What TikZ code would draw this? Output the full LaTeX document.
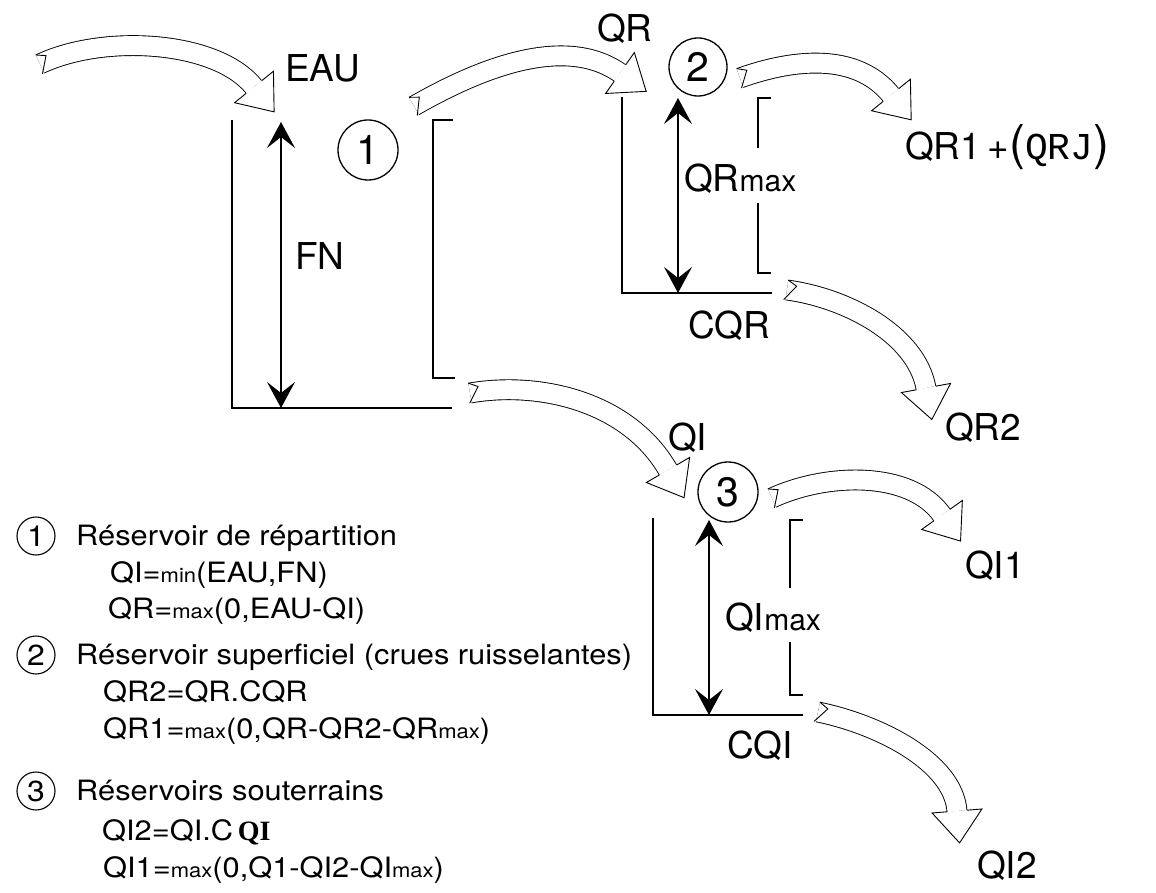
\documentclass[tikz,border=0pt]{standalone}
\usepackage{fontspec}
\setmainfont{TeX Gyre Heros}
\newfontfamily\legfont[FakeStretch=1.1]{TeX Gyre Heros}
\newfontfamily\handfont{Liberation Mono}
\newfontfamily\serifbold{Liberation Serif}
\usetikzlibrary{arrows.meta,decorations.markings}
\newcommand\smalltxt[1]{{\fontsize{20}{20}\selectfont #1}}
\tikzset{
  wall/.style={line width=1.1pt},
  dimarrow/.style={line width=1.3pt,
    {Stealth[length=26pt,width=28pt,inset=11pt]}-{Stealth[length=26pt,width=28pt,inset=11pt]}},
  bigcirc/.style={draw, circle, line width=1.3pt, minimum size=60pt, inner sep=0pt,
    font=\fontsize{41}{41}\selectfont},
  legcirc/.style={draw, circle, line width=1.1pt, minimum size=38pt, inner sep=0pt,
    font=\legfont\fontsize{29}{29}\selectfont},
  biglabel/.style={inner sep=0pt, anchor=base west, font=\fontsize{37}{37}\selectfont},
  legtext/.style={inner sep=0pt, anchor=base west, font=\legfont\fontsize{28}{28}\selectfont},
  flow/.style={draw, line width=0.9pt, double, double distance=19pt,
    postaction={decorate, decoration={markings,
      mark=at position 0 with {\draw[line width=0.9pt, line join=miter] (0,10) -- (9,5) -- (-2,-10);},
      mark=at position 0.9999 with {\path[draw, fill=white, line width=0.9pt, line join=miter]
          (0,10) -- (0,25) -- (32,0) -- (0,-25) -- (0,-10);}}}}
}
\begin{document}
\begin{tikzpicture}[x=1pt,y=1pt]
\useasboundingbox (0,0) rectangle (1156,-893);

% ---------- reservoir 1
\draw[wall] (232,-120) -- (232,-408) -- (452,-408);
\draw[wall] (453,-120) -- (433,-120) -- (433,-378) -- (455,-378);
\coordinate (fnTop) at (281,-122);
\coordinate (fnBot) at (281,-408);
\draw[dimarrow] (fnBot) -- (fnTop);
\node[bigcirc] (c1) at (368,-150) {1};
\node[biglabel] (eau) at (285,-82) {EAU};
\node[biglabel] (fn) at (295,-270) {FN};

% ---------- reservoir 2
\draw[wall] (622,-97) -- (622,-293) -- (772,-293);
\draw[wall] (771,-98) -- (758,-98) -- (758,-148);
\draw[wall] (758,-203) -- (758,-273) -- (771,-273);
\coordinate (qrTop) at (678,-98);
\coordinate (qrBot) at (678,-293);
\draw[dimarrow] (qrBot) -- (qrTop);
\node[bigcirc, minimum size=58pt] (c2) at (698,-67) {2};
\node[biglabel] (qr) at (597,-42) {QR};
\node[biglabel] (qrmax) at (684,-192) {QR{\fontsize{30}{30}\selectfont max}};
\node[biglabel] (cqr) at (688,-338) {CQR};
\node[biglabel] (qr2) at (945,-440) {QR2};
\node[biglabel] (qr1) at (905,-160) {QR1\,+{\fontsize{48}{48}\selectfont(}{\handfont\fontsize{38}{38}\selectfont QRJ}{\fontsize{48}{48}\selectfont)}};

% ---------- reservoir 3
\draw[wall] (653,-518) -- (653,-715) -- (803,-715);
\draw[wall] (803,-520) -- (790,-520) -- (790,-588);
\draw[wall] (790,-642) -- (790,-695) -- (803,-695);
\coordinate (qiTop) at (709,-520);
\coordinate (qiBot) at (709,-715);
\draw[dimarrow] (qiBot) -- (qiTop);
\node[bigcirc] (c3) at (728,-492) {3};
\node[biglabel] (qi) at (668,-450) {QI};
\node[biglabel] (qimax) at (725,-630) {QI{\fontsize{30}{30}\selectfont max}};
\node[biglabel] (cqi) at (727,-758) {CQI};
\node[biglabel] (qi1) at (965,-578) {QI1};
\node[biglabel] (qi2) at (977,-878) {QI2};

% ---------- flow arrows
\coordinate (aS) at (40,-64);   \coordinate (aE) at (254,-87);
\coordinate (bS) at (414,-106); \coordinate (bE) at (620,-73);
\coordinate (cS) at (740,-78);  \coordinate (cE) at (891,-95);
\coordinate (dS) at (470,-393); \coordinate (dE) at (668,-470);
\coordinate (eS) at (772,-498); \coordinate (eE) at (942,-515);
\coordinate (fS) at (787,-290); \coordinate (fE) at (926,-388);
\coordinate (gS) at (818,-712); \coordinate (gE) at (957,-811);
\draw[flow] (aS) .. controls (103,-34) and (216,-40) .. (aE);
\draw[flow] (bS) .. controls (475,-71) and (563,-33) .. (bE);
\draw[flow] (cS) .. controls (793,-59) and (856,-52) .. (cE);
\draw[flow] (dS) .. controls (539,-381) and (628,-401) .. (dE);
\draw[flow] (eS) .. controls (826,-473) and (910,-470) .. (eE);
\draw[flow] (fS) .. controls (846,-298) and (916,-334) .. (fE);
\draw[flow] (gS) .. controls (877,-724) and (953,-761) .. (gE);

% ---------- legend
\node[legcirc] (l1) at (36,-536) {1};
\node[legtext] (h1) at (76,-545) {Réservoir de répartition};
\node[legtext] (f1a) at (110,-582) {QI=\smalltxt{min}(EAU,FN)};
\node[legtext] (f1b) at (108,-618) {QR=\smalltxt{max}(0,EAU-QI)};
\node[legcirc] (l2) at (36,-655) {2};
\node[legtext] (h2) at (76,-664) {Réservoir superficiel (crues ruisselantes)};
\node[legtext] (f2a) at (103,-701) {QR2=QR.CQR};
\node[legtext] (f2b) at (103,-738) {QR1=\smalltxt{max}(0,QR-QR2-QR\smalltxt{max})};
\node[legcirc] (l3) at (36,-791) {3};
\node[legtext] (h3) at (76,-800) {Réservoirs souterrains};
\node[legtext] (f3a) at (102,-840) {QI2=QI.C\,{\serifbold\bfseries QI}};
\node[legtext] (f3b) at (103,-877) {QI1=\smalltxt{max}(0,Q1-QI2-QI\smalltxt{max})};
\end{tikzpicture}
\end{document}
